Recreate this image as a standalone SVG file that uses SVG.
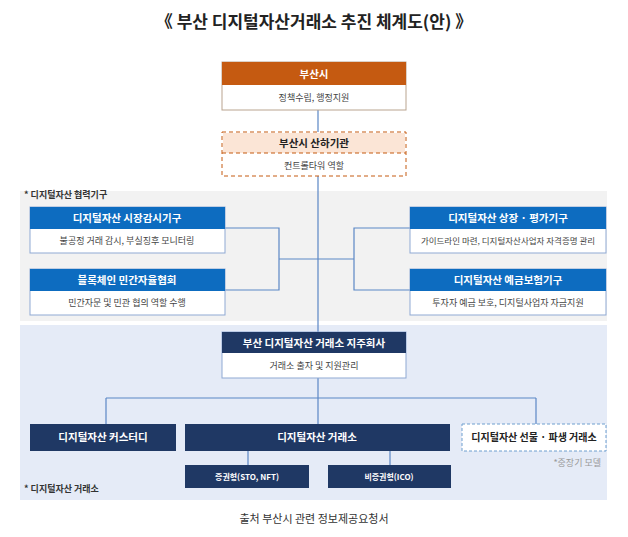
<svg xmlns="http://www.w3.org/2000/svg" width="628" height="537" viewBox="0 0 628 537">
<style>
text{font-family:"Noto Sans CJK KR","Noto Sans",sans-serif;text-anchor:middle}
.h{font-size:10.5px;font-weight:bold;fill:#fff}
.s{font-size:9px;fill:#444}
.sub{fill:#fff;stroke:#b9a48f;stroke-width:1}
.bsub{fill:#fff;stroke:#8fa9d3;stroke-width:1}
.ln{stroke:#5b87c5;stroke-width:1.2;fill:none}
.note{font-size:9px;font-weight:bold;fill:#333;text-anchor:start}
</style>
<rect width="628" height="537" fill="#fff"/>
<text x="314" y="28" style="font-size:17px;font-weight:bold;fill:#222">《 부산 디지털자산거래소 추진 체계도(안) 》</text>
<rect x="20" y="191" width="587" height="130" fill="#f2f2f2"/>
<rect x="20" y="325" width="587" height="175" fill="#e5ebf7"/>
<g id="connectors">
<path class="ln" d="M318 110V132M318 176V332M225 228H279V290H225M279 259H318M410 228H354V290H410M354 259H318M318 378V424M106 398H536M106 398V424M536 398V424M248 451V465M390 451V465"/>
</g>
<g id="busan"><rect x="222" y="62" width="184" height="48" class="sub"/><rect x="222" y="62" width="184" height="23" fill="#c55a11"/><text x="314" y="78" class="h">부산시</text><text x="314" y="101" class="s">정책수립, 행정지원</text></g>
<g id="affiliate"><rect x="222" y="132" width="184" height="44" fill="#fff" stroke="#c55a11" stroke-dasharray="4 3"/><rect x="223" y="133" width="182" height="20" fill="#fbe5d6"/><line x1="222" y1="153" x2="406" y2="153" stroke="#c55a11" stroke-dasharray="4 3"/><text x="314" y="147" style="font-size:10.5px;font-weight:bold;fill:#222">부산시 산하기관</text><text x="314" y="169" class="s">컨트롤타워 역할</text></g>
<text x="24" y="198" class="note">* 디지털자산 협력기구</text>
<g id="surv"><rect x="30" y="207" width="195" height="46" class="bsub"/><rect x="30" y="207" width="195" height="22" fill="#0d6cc0"/><text x="127" y="222" class="h">디지털자산 시장감시기구</text><text x="127" y="244" class="s">불공정 거래 감시, 부실징후 모니터링</text></g>
<g id="assoc"><rect x="30" y="269" width="195" height="46" class="bsub"/><rect x="30" y="269" width="195" height="22" fill="#0d6cc0"/><text x="127" y="284" class="h">블록체인 민간자율협회</text><text x="127" y="306" class="s">민간자문 및 민관 협의 역할 수행</text></g>
<g id="listing"><rect x="410" y="207" width="196" height="46" class="bsub"/><rect x="410" y="207" width="196" height="22" fill="#0d6cc0"/><text x="508" y="222" class="h">디지털자산 상장 · 평가기구</text><text x="508" y="244" class="s" style="font-size:8.5px">가이드라인 마련, 디지털자산사업자 자격증명 관리</text></g>
<g id="deposit"><rect x="410" y="269" width="196" height="46" class="bsub"/><rect x="410" y="269" width="196" height="22" fill="#0d6cc0"/><text x="508" y="284" class="h">디지털자산 예금보험기구</text><text x="508" y="306" class="s">투자자 예금 보호, 디지털사업자 자금지원</text></g>
<g id="holding"><rect x="222" y="332" width="184" height="46" class="bsub"/><rect x="222" y="332" width="184" height="21" fill="#1f3864"/><text x="314" y="347" class="h">부산 디지털자산 거래소 지주회사</text><text x="314" y="369" class="s">거래소 출자 및 지원관리</text></g>
<g id="custody"><rect x="30" y="424" width="146" height="27" fill="#1f3864"/><text x="103" y="441" class="h">디지털자산 커스터디</text></g>
<g id="exchange"><rect x="185" y="424" width="265" height="27" fill="#1f3864"/><text x="317" y="441" class="h">디지털자산 거래소</text></g>
<g id="futures"><rect x="462" y="424" width="144" height="27" fill="#fff" stroke="#6f9fcf" stroke-dasharray="3 2"/><text x="534" y="441" style="font-size:10px;font-weight:bold;fill:#222">디지털자산 선물 · 파생 거래소</text><text x="601" y="466" style="font-size:9px;fill:#999;text-anchor:end">*중장기 모델</text></g>
<g id="sto"><rect x="185" y="465" width="124" height="23" fill="#1f3864"/><text x="247" y="480" style="font-size:8px;font-weight:bold;fill:#fff">증권형(STO, NFT)</text></g>
<g id="ico"><rect x="328" y="465" width="123" height="23" fill="#1f3864"/><text x="389" y="480" style="font-size:8px;font-weight:bold;fill:#fff">비증권형(ICO)</text></g>
<text x="24" y="492" class="note">* 디지털자산 거래소</text>
<text x="314" y="523" style="font-size:11px;fill:#333">출처 부산시 관련 정보제공요청서</text>
</svg>
